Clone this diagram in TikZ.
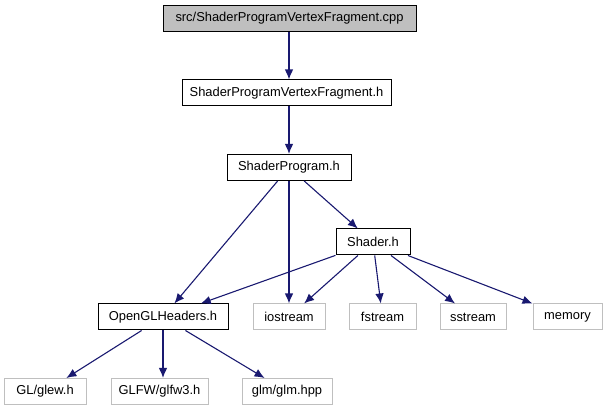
\documentclass[tikz,border=0pt]{standalone}
\usepackage{fontspec}
\setmainfont{Liberation Sans}
\usetikzlibrary{arrows.meta}
\definecolor{edgeblue}{HTML}{191970}
\definecolor{leafgray}{HTML}{BFBFBF}
\begin{document}
\begin{tikzpicture}[x=1pt, y=-1pt,
  file/.style={draw=black, line width=1pt, minimum height=26pt, inner sep=0pt, font=\fontsize{12.9}{15}\selectfont},
  sys/.style={file, draw=leafgray},
  dep/.style={draw=edgeblue, line width=1.1pt, -{Latex[length=10pt, width=8.5pt]}}]
\useasboundingbox (0,0) rectangle (608,411);
% the file itself
\node [file, fill=leafgray, minimum width=253pt] (cpp) at (289.5,18.5) {src/ShaderProgramVertexFragment.cpp};
% project headers
\node [file, minimum width=209pt] (vfh) at (286.5,93) {ShaderProgramVertexFragment.h};
\node [file, minimum width=124pt] (prog) at (289,167.5) {ShaderProgram.h};
\node [file, minimum width=74pt] (shader) at (373,242) {Shader.h};
\node [file, minimum width=130pt] (gl) at (163,317) {OpenGLHeaders.h};
% system headers
\node [sys, minimum width=72pt] (ios) at (289,317) {iostream};
\node [sys, minimum width=67pt] (fs) at (382.5,317) {fstream};
\node [sys, minimum width=66pt] (ss) at (473,317) {sstream};
\node [sys, minimum width=69pt] (mem) at (567.5,317) {memory};
\node [sys, minimum width=82pt] (glew) at (45,391.5) {GL/glew.h};
\node [sys, minimum width=97pt] (glfw) at (159.5,391.5) {GLFW/glfw3.h};
\node [sys, minimum width=90pt] (glm) at (287,391.5) {glm/glm.hpp};

\draw [dep] (cpp.south -| prog) -- (vfh.north -| prog);
\draw [dep] (vfh.south -| prog) -- (prog);
\draw [dep] (prog) -- (gl);
\draw [dep] (prog) -- (ios);
\draw [dep] (prog) -- (shader);
\draw [dep] (shader) -- (gl);
\draw [dep] (shader) -- (ios);
\draw [dep] (shader) -- (fs);
\draw [dep] (shader) -- (ss);
\draw [dep] (shader) -- (mem);
\draw [dep] (gl) -- (glew);
\draw [dep] (gl) -- (gl |- glfw.north);
\draw [dep] (gl) -- (glm);
\end{tikzpicture}
\end{document}
